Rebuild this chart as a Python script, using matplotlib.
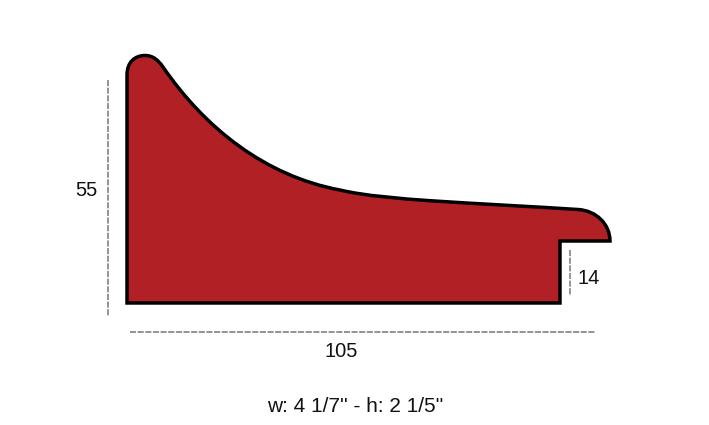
import matplotlib
matplotlib.use('Agg')
import matplotlib.pyplot as plt
from matplotlib.path import Path
from matplotlib.patches import PathPatch

plt.rcParams['font.family'] = ['Liberation Sans', 'DejaVu Sans']

# top curve of the profile as cubic bezier segments, pixels
start = (127, 75)
segments = [
    [(127, 62), (135, 55.5), (145, 55.5)],
    [(153, 55.5), (158, 60), (163, 67)],
    [(205, 128), (265, 176), (340, 190)],
    [(365, 196), (400, 198.5), (430, 200.7)],
    [(480, 204), (540, 207), (578, 209.5)],
    [(596, 210.5), (610, 224), (610, 241)],
]
# straight part, from the nose round to the bottom left corner
rest_x = [560, 560, 127]
rest_y = [241, 303, 303]

# dimension lines
dim_height = (108, 80, 108, 316)
dim_width = (130, 332, 596, 332)
dim_lip = (570, 250, 570, 296)
height_label = '55'
width_label = '105'
lip_label = '14'
caption = 'w: 4 1/7\'\' - h: 2 1/5\'\''

fig = plt.figure(figsize=(7.09, 4.25), dpi=100)
ax = fig.add_axes([0, 0, 1, 1])
ax.set_xlim(0, 709)
ax.set_ylim(425, 0)
ax.axis('off')

verts = [(127, 303), start]
codes = [Path.MOVETO, Path.LINETO]
for seg in segments:
    verts += seg
    codes += [Path.CURVE4] * 3
for x, y in zip(rest_x, rest_y):
    verts.append((x, y))
    codes.append(Path.LINETO)
verts.append((127, 303))
codes.append(Path.CLOSEPOLY)
ax.add_patch(PathPatch(Path(verts, codes), facecolor='#b12024', edgecolor='black', linewidth=2.5, joinstyle='miter'))

for d in [dim_height, dim_width, dim_lip]:
    ax.plot([d[0], d[2]], [d[1], d[3]], color='#777777', linewidth=1.1, linestyle=(0, (4, 1)))

ax.text(86.5, 190, height_label, fontsize=14.5, ha='center', va='center', color='#111111')
ax.text(341, 351.5, width_label, fontsize=14.5, ha='center', va='center', color='#111111')
ax.text(589, 278, lip_label, fontsize=14.5, ha='center', va='center', color='#111111')
ax.text(355.5, 406, caption, fontsize=15, ha='center', va='center', color='#111111')

fig.savefig('out.png', dpi=100)
